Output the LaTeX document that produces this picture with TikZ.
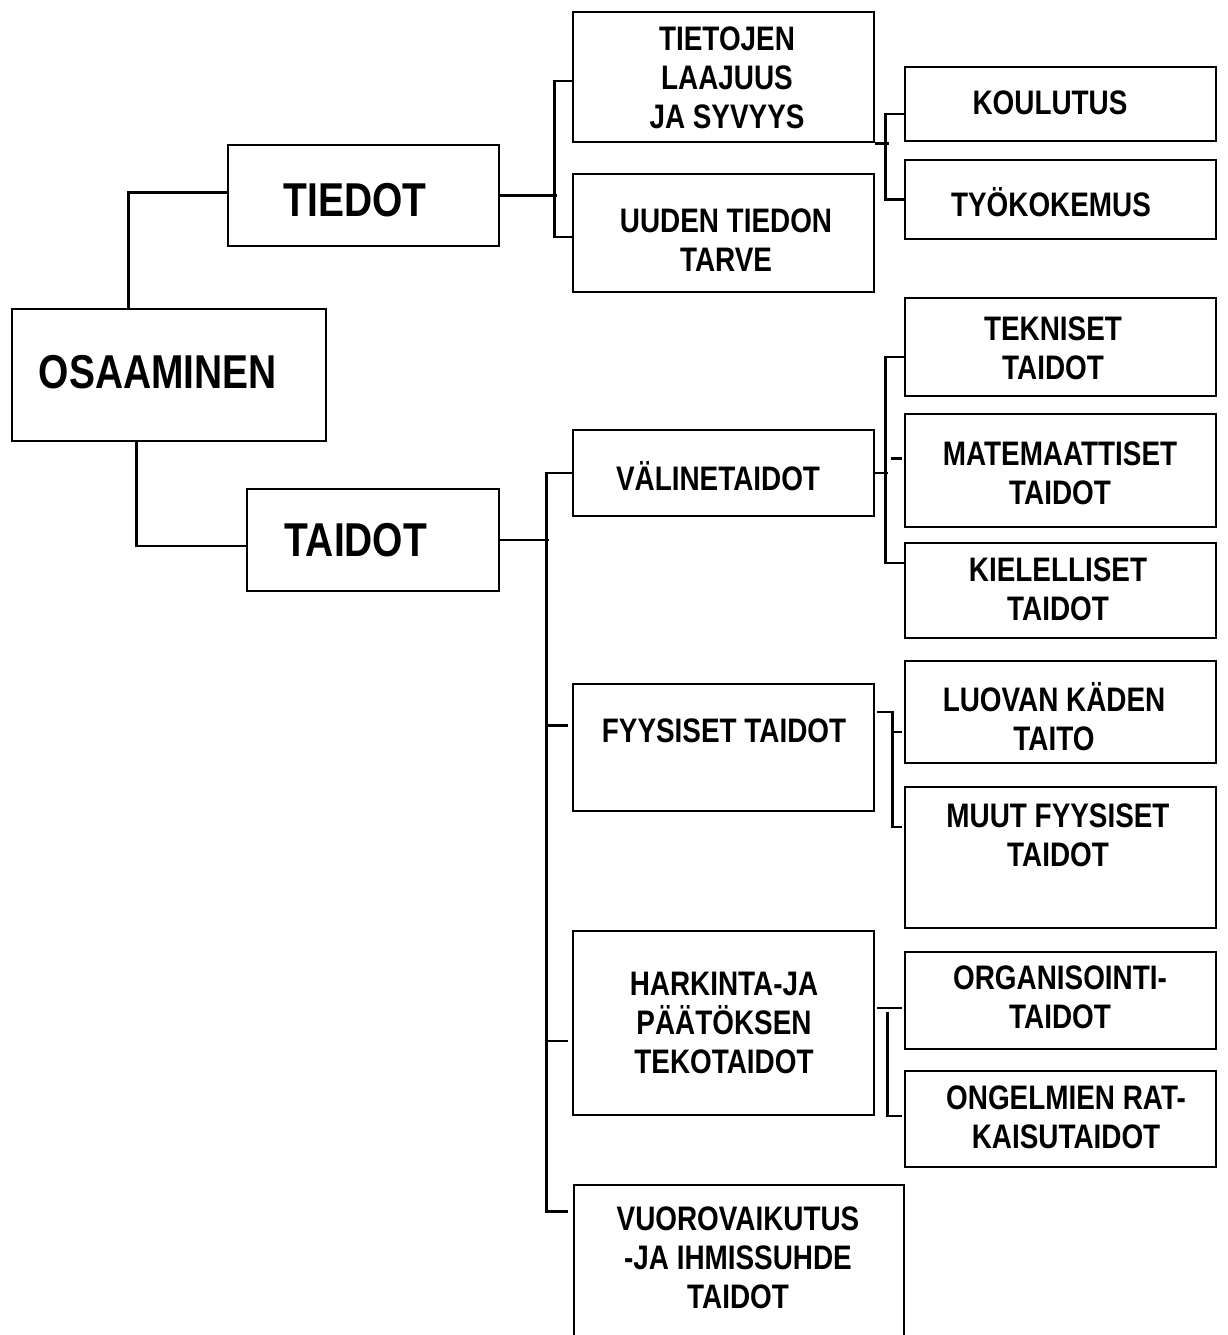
\documentclass[tikz,border=0pt]{standalone}
\usepackage{fontspec}
\setmainfont{Liberation Sans}[FakeStretch=0.82]
\usetikzlibrary{calc}
\begin{document}
\begin{tikzpicture}[x=1pt,y=-1pt,
  box/.style={draw, line width=2.8pt, inner sep=0pt, anchor=center},
  conn/.style={line width=2.6pt},
  txt/.style={align=center, inner sep=0pt, font=\bfseries\fontsize{34}{39}\selectfont},
  bigtxt/.style={align=center, inner sep=0pt, font=\bfseries\fontsize{47.5}{53}\selectfont},
]
\useasboundingbox[fill=white] (0,0) rectangle (1227,1335);

% ---- boxes ----
\node[box, minimum width=314pt, minimum height=132pt] (osa)   at (169,375)    {};
\node[box, minimum width=271pt, minimum height=101pt] (tiedot) at (363.5,195.5) {};
\node[box, minimum width=252pt, minimum height=102pt] (taidot) at (373,540)   {};

\node[box, minimum width=301pt, minimum height=130pt] (laaj) at (723.5,77)    {};
\node[box, minimum width=301pt, minimum height=118pt] (uusi) at (723.5,233)   {};
\node[box, minimum width=301pt, minimum height=86pt]  (vali) at (723.5,473)   {};
\node[box, minimum width=301pt, minimum height=127pt] (fyys) at (723.5,747.5) {};
\node[box, minimum width=301pt, minimum height=184pt] (hark) at (723.5,1023)  {};
\node[box, minimum width=330pt, minimum height=160pt] (vuo)  at (739,1265)    {};

\node[box, minimum width=311pt, minimum height=74pt]  (koul) at (1060.5,104)   {};
\node[box, minimum width=311pt, minimum height=79pt]  (tyo)  at (1060.5,199.5) {};
\node[box, minimum width=311pt, minimum height=98pt]  (tekn) at (1060.5,347)   {};
\node[box, minimum width=311pt, minimum height=113pt] (mate) at (1060.5,470.5) {};
\node[box, minimum width=311pt, minimum height=95pt]  (kiel) at (1060.5,590.5) {};
\node[box, minimum width=311pt, minimum height=102pt] (luov) at (1060.5,712)   {};
\node[box, minimum width=311pt, minimum height=141pt] (muut) at (1060.5,857.5) {};
\node[box, minimum width=311pt, minimum height=97pt]  (org)  at (1060.5,1000.5) {};
\node[box, minimum width=311pt, minimum height=96pt]  (ong)  at (1060.5,1119)  {};

% ---- labels ----
\node[bigtxt] (t-osa)    at (158,372) {OSAAMINEN};
\node[bigtxt] (t-tiedot) at (355,200) {TIEDOT};
\node[bigtxt] (t-taidot) at (356,540) {TAIDOT};

\node[txt] (t-laaj) at (727,78)   {TIETOJEN\\LAAJUUS\\JA SYVYYS};
\node[txt] (t-uusi) at (726,240)  {UUDEN TIEDON\\TARVE};
\node[txt] (t-vali) at (718,476)  {VÄLINETAIDOT};
\node[txt] (t-fyys) at (724,731)  {FYYSISET TAIDOT};
\node[txt] (t-hark) at (724,1023) {HARKINTA-JA\\PÄÄTÖKSEN\\TEKOTAIDOT};
\node[txt] (t-vuo)  at (738,1258) {VUOROVAIKUTUS\\-JA IHMISSUHDE\\TAIDOT};

\node[txt] (t-koul) at (1050,103)  {KOULUTUS};
\node[txt] (t-tyo)  at (1051,202)  {TYÖKOKEMUS};
\node[txt] (t-tekn) at (1053,348)  {TEKNISET\\TAIDOT};
\node[txt] (t-mate) at (1060,473)  {MATEMAATTISET\\TAIDOT};
\node[txt] (t-kiel) at (1058,589)  {KIELELLISET\\TAIDOT};
\node[txt] (t-luov) at (1054,717)  {LUOVAN KÄDEN\\TAITO};
\node[txt] (t-muut) at (1058,835)  {MUUT FYYSISET\\TAIDOT};
\node[txt] (t-org)  at (1060,997)  {ORGANISOINTI-\\TAIDOT};
\node[txt] (t-ong)  at (1066,1117) {ONGELMIEN RAT-\\KAISUTAIDOT};

% ---- root to first level ----
\draw[conn] (osa.north west) ++(118,0) |- ($(tiedot.west)+(0,-3)$);
\draw[conn] (osa.south west) ++(126,0) |- ($(taidot.west)+(0,6)$);

% ---- TIEDOT branch ----
\draw[conn] (tiedot.east) -- ++(57,0);
\draw[conn] ($(laaj.west)+(0,4)$) -- ++(-17,0) |- ($(uusi.west)+(0,4)$);

\draw[conn] (laaj.south east) -- ++(14,0);
\draw[conn] ($(koul.west)+(0,10)$) -- ++(-18,0) |- (tyo.west);

% ---- TAIDOT branch ----
\draw[conn] (taidot.east) -- ++(49,0);
\draw[conn] (vali.west) -- ++(-25,0) |- ($(vuo.north west)+(-5,28)$);
\draw[conn] ($(fyys.west)+(-4,-22)$) -- ++(-21,0);
\draw[conn] ($(hark.west)+(-4,18)$) -- ++(-21,0);

% VÄLINETAIDOT children
\draw[conn] (vali.east) -- ++(13,0);
\draw[conn] ($(tekn.west)+(0,10)$) -- ++(-18,0) |- ($(kiel.west)+(0,-27.5)$);
\draw[conn] ($(mate.west)+(-2,-12)$) -- ++(-11,0);

% FYYSISET TAIDOT children
\draw[conn] ($(fyys.east)+(2,-35.5)$) -- ++(15,0) |- ($(muut.west)+(-2,-30.5)$);
\draw[conn] ($(luov.west)+(-2,20)$) -- ++(-10,0);

% HARKINTA children
\draw[conn] ($(hark.east)+(2,-15)$) -- ($(org.west)+(-2,7.5)$);
\draw[conn] ($(ong.west)+(-2,-3)$) -- ++(-14,0) -- ++(0,-104);
\end{tikzpicture}
\end{document}
